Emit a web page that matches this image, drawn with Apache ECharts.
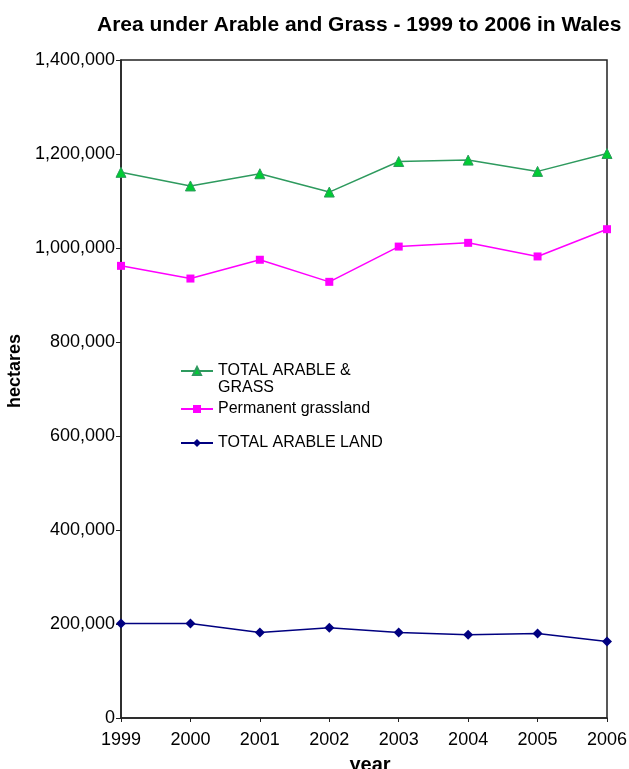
<!DOCTYPE html>
<html>
<head>
<meta charset="utf-8">
<script src="https://cdn.jsdelivr.net/npm/echarts@6/dist/echarts.min.js"></script>
<style>
  html, body { margin: 0; padding: 0; background: #fff; }
  #chart { width: 629px; height: 769px; }
</style>
</head>
<body>
<div id="chart"></div>
<script>
// years on the x axis
var years = ['1999', '2000', '2001', '2002', '2003', '2004', '2005', '2006'];
// hectares
var totalArableGrass = [1161000, 1132000, 1158000, 1119000, 1184000, 1187000, 1163000, 1201000];
var permanentGrass = [962000, 935000, 975000, 928000, 1003000, 1011000, 982000, 1040000];
var totalArable = [201000, 201000, 182000, 192000, 182000, 177000, 180000, 163000];

var seriesNames = ['TOTAL ARABLE & GRASS', 'Permanent grassland', 'TOTAL ARABLE LAND'];

var font = 'Liberation Sans, Arial, sans-serif';
var legendText = { fontFamily: font, fontSize: 16, color: '#000' };

var myChart = echarts.init(document.getElementById('chart'));
myChart.setOption({
    animation: false,
    title: {
        text: 'Area under Arable and Grass - 1999 to 2006 in Wales',
        left: 92,
        top: 10,
        textStyle: { fontFamily: font, fontSize: 21, fontWeight: 'bold', color: '#000' }
    },
    // one legend per row; the first entry wraps onto a second line below
    legend: [
        {
            data: [seriesNames[0]],
            left: 175, top: 358,
            itemWidth: 32, itemHeight: 10, itemGap: 7,
            formatter: function () { return 'TOTAL ARABLE &'; },
            textStyle: legendText
        },
        {
            data: [seriesNames[1]],
            left: 175, top: 396,
            itemWidth: 32, itemHeight: 10,
            textStyle: legendText
        },
        {
            data: [seriesNames[2]],
            left: 175, top: 430,
            itemWidth: 32, itemHeight: 10,
            textStyle: legendText
        }
    ],
    graphic: [
        {
            type: 'text',
            left: 218, top: 380,
            style: { text: 'GRASS', font: '16px ' + font, fill: '#000' }
        }
    ],
    grid: {
        left: 121, right: 22, top: 60, bottom: 51,
        outerBoundsMode: 'none',
        show: true, borderColor: '#222', borderWidth: 1.5, backgroundColor: 'transparent'
    },
    xAxis: {
        type: 'category',
        data: years,
        boundaryGap: false,
        name: 'year',
        nameLocation: 'middle',
        nameGap: 37,
        nameTextStyle: { fontFamily: font, fontSize: 20, fontWeight: 'bold', color: '#000', padding: [0, 0, 0, 12] },
        axisLine: { lineStyle: { color: '#222', width: 1.5 } },
        axisTick: { show: true, length: 4, lineStyle: { color: '#222' } },
        axisLabel: { fontFamily: font, fontSize: 18, color: '#000', margin: 13 },
        splitLine: { show: false }
    },
    yAxis: {
        type: 'value',
        min: 0,
        max: 1400000,
        interval: 200000,
        name: 'hectares',
        nameLocation: 'middle',
        nameGap: 93,
        nameTextStyle: { fontFamily: font, fontSize: 18, fontWeight: 'bold', color: '#000', padding: [0, 0, 0, 36] },
        axisLine: { show: true, lineStyle: { color: '#222', width: 1.5 } },
        axisTick: { show: true, length: 5, lineStyle: { color: '#222' } },
        axisLabel: {
            fontFamily: font, fontSize: 18, color: '#000', margin: 6,
            formatter: function (v) { return v.toLocaleString('en-US'); }
        },
        splitLine: { show: false }
    },
    series: [
        {
            name: seriesNames[0],
            type: 'line',
            data: totalArableGrass,
            symbol: 'triangle',
            symbolSize: 10,
            lineStyle: { color: '#2e9a5e', width: 1.5 },
            itemStyle: { color: '#00cc33', borderColor: '#2e9a5e', borderWidth: 1 }
        },
        {
            name: seriesNames[1],
            type: 'line',
            data: permanentGrass,
            symbol: 'rect',
            symbolSize: 8,
            lineStyle: { color: '#ff00ff', width: 1.5 },
            itemStyle: { color: '#ff00ff' }
        },
        {
            name: seriesNames[2],
            type: 'line',
            data: totalArable,
            symbol: 'diamond',
            symbolSize: 10,
            lineStyle: { color: '#000080', width: 1.5 },
            itemStyle: { color: '#000080' }
        }
    ]
});
</script>
</body>
</html>
